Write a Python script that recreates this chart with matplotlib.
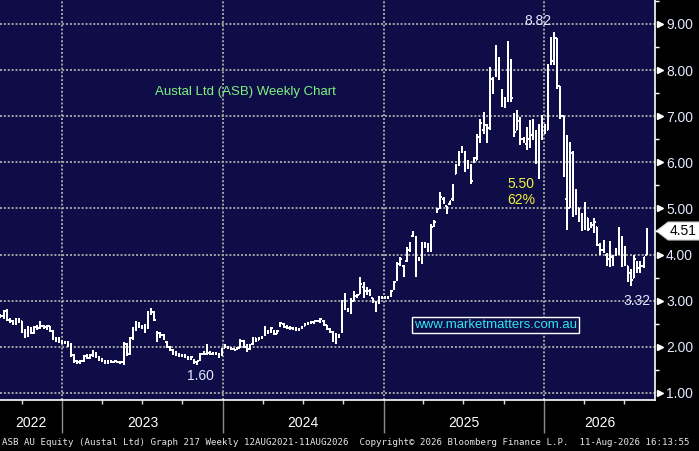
import numpy as np
import pandas as pd
import matplotlib
matplotlib.use('Agg')
from matplotlib import pyplot as plt
import matplotlib.dates as mdates
from matplotlib.patches import Polygon
from matplotlib.transforms import blended_transform_factory

# weekly OHLC for ASB
last_bar = '2026-08-22'

opens = [2.68, 2.66, 2.78, 2.58, 2.55, 2.50, 2.60, 2.55, 2.35, 2.25,
         2.40, 2.30, 2.43, 2.40, 2.45, 2.42, 2.44, 2.35, 2.18, 2.13,
         2.12, 2.08, 2.10, 2.05, 1.82, 1.70, 1.66, 1.68, 1.80, 1.76,
         1.82, 1.85, 1.78, 1.72, 1.70, 1.64, 1.70, 1.67, 1.68, 1.66,
         1.67, 2.05, 1.85, 2.18, 2.38, 2.50, 2.42, 2.42, 2.40, 2.72,
         2.75, 2.25, 2.28, 2.25, 2.10, 2.00, 1.93, 1.88, 1.83, 1.80,
         1.82, 1.78, 1.76, 1.72, 1.66, 1.72, 1.84, 1.85, 1.87, 1.85,
         1.86, 1.85, 1.84, 1.98, 2.00, 1.97, 1.95, 1.95, 1.98, 2.12,
         2.00, 1.95, 2.05, 2.18, 2.15, 2.20, 2.25, 2.33, 2.32, 2.35,
         2.28, 2.45, 2.50, 2.42, 2.41, 2.40, 2.38, 2.38, 2.40, 2.45,
         2.50, 2.52, 2.54, 2.55, 2.55, 2.55, 2.47, 2.38, 2.32, 2.27,
         2.22, 2.34, 2.95, 2.80, 2.75, 3.00, 3.10, 3.15, 3.30, 3.20,
         3.20, 3.05, 2.98, 2.95, 3.05, 3.07, 3.06, 3.10, 3.25, 3.45,
         3.80, 3.75, 3.85, 4.10, 4.40, 4.38, 3.90, 3.90, 4.20, 4.20,
         4.10, 4.65, 4.95, 5.00, 5.20, 5.05, 5.10, 5.20, 5.75, 5.95,
         6.25, 6.20, 5.90, 5.90, 6.00, 6.05, 6.45, 6.70, 6.80, 6.75,
         7.80, 7.90, 8.20, 7.50, 7.30, 7.35, 8.20, 7.05, 6.70, 6.90,
         6.50, 6.40, 6.50, 6.60, 6.60, 6.10, 6.60, 6.80, 6.70, 8.15,
         8.20, 8.70, 7.65, 7.00, 5.20, 5.00, 6.20, 5.20, 5.00, 4.85,
         4.60, 4.80, 4.60, 4.65, 4.60, 4.20, 4.10, 4.00, 3.90, 3.95,
         4.00, 4.05, 4.20, 4.10, 3.75, 3.55, 3.50, 3.80, 3.70, 3.75,
         4.00]

highs = [2.72, 2.80, 2.82, 2.62, 2.58, 2.62, 2.63, 2.56, 2.38, 2.45,
         2.42, 2.45, 2.47, 2.55, 2.48, 2.47, 2.46, 2.37, 2.22, 2.22,
         2.15, 2.13, 2.12, 2.08, 1.85, 1.72, 1.72, 1.82, 1.84, 1.85,
         1.92, 1.88, 1.80, 1.75, 1.72, 1.72, 1.72, 1.70, 1.70, 1.69,
         2.10, 2.08, 2.22, 2.42, 2.55, 2.53, 2.48, 2.50, 2.78, 2.84,
         2.77, 2.35, 2.32, 2.28, 2.12, 2.02, 1.95, 1.90, 1.86, 1.84,
         1.85, 1.80, 1.80, 1.74, 1.70, 1.86, 1.90, 2.06, 1.90, 1.89,
         1.88, 1.87, 1.98, 2.07, 2.02, 1.99, 1.97, 2.00, 2.16, 2.14,
         2.07, 2.05, 2.22, 2.20, 2.22, 2.24, 2.45, 2.36, 2.43, 2.36,
         2.37, 2.54, 2.52, 2.47, 2.44, 2.43, 2.42, 2.40, 2.44, 2.52,
         2.53, 2.56, 2.56, 2.58, 2.62, 2.58, 2.48, 2.40, 2.35, 2.30,
         2.28, 3.01, 3.16, 2.84, 3.05, 3.20, 3.15, 3.52, 3.40, 3.30,
         3.25, 3.05, 3.00, 3.10, 3.10, 3.10, 3.10, 3.22, 3.42, 3.84,
         3.95, 3.77, 4.17, 4.27, 4.50, 4.40, 3.95, 4.27, 4.27, 4.24,
         4.67, 4.74, 5.00, 5.35, 5.24, 5.06, 5.17, 5.53, 5.96, 6.25,
         6.35, 6.25, 6.05, 5.97, 6.12, 6.62, 6.95, 7.09, 6.84, 8.07,
         7.86, 8.54, 8.29, 7.60, 7.42, 8.62, 8.25, 7.06, 7.13, 6.99,
         6.55, 6.77, 6.91, 6.95, 6.70, 6.84, 7.02, 6.84, 8.14, 8.72,
         8.82, 8.70, 7.65, 7.00, 6.60, 6.45, 6.25, 5.43, 5.00, 4.90,
         5.14, 4.80, 4.70, 4.80, 4.60, 4.25, 4.32, 4.03, 4.30, 4.00,
         4.14, 4.60, 4.40, 4.18, 3.75, 3.68, 4.00, 3.86, 3.85, 3.95,
         4.57]

lows = [2.62, 2.60, 2.55, 2.52, 2.48, 2.48, 2.52, 2.30, 2.20, 2.22,
        2.28, 2.28, 2.37, 2.38, 2.38, 2.37, 2.32, 2.15, 2.10, 2.08,
        2.05, 2.05, 2.00, 1.78, 1.65, 1.63, 1.62, 1.66, 1.74, 1.73,
        1.78, 1.76, 1.70, 1.66, 1.62, 1.63, 1.65, 1.64, 1.64, 1.63,
        1.61, 1.80, 1.83, 2.15, 2.35, 2.40, 2.38, 2.30, 2.38, 2.68,
        2.55, 2.10, 2.20, 2.15, 1.98, 1.90, 1.82, 1.80, 1.78, 1.77,
        1.75, 1.72, 1.72, 1.62, 1.60, 1.70, 1.82, 1.83, 1.83, 1.82,
        1.82, 1.75, 1.80, 1.97, 1.95, 1.92, 1.92, 1.93, 1.97, 1.98,
        1.88, 1.93, 2.03, 2.10, 2.14, 2.17, 2.24, 2.28, 2.30, 2.25,
        2.27, 2.42, 2.40, 2.38, 2.36, 2.36, 2.34, 2.34, 2.38, 2.44,
        2.47, 2.50, 2.50, 2.53, 2.52, 2.45, 2.36, 2.30, 2.10, 2.05,
        2.18, 2.30, 2.80, 2.75, 2.70, 3.00, 3.05, 3.15, 3.05, 3.12,
        3.10, 2.95, 2.76, 2.92, 3.03, 3.03, 3.03, 3.08, 3.22, 3.42,
        3.75, 3.52, 3.84, 4.06, 4.38, 3.52, 3.85, 3.80, 4.15, 4.06,
        4.06, 4.60, 4.90, 4.99, 5.10, 4.88, 5.08, 5.17, 5.75, 5.93,
        6.20, 5.78, 5.85, 5.54, 5.98, 6.04, 6.41, 6.62, 6.41, 6.70,
        7.49, 7.86, 7.78, 7.20, 7.17, 7.30, 7.30, 6.55, 6.70, 6.37,
        6.41, 6.26, 6.30, 6.48, 5.97, 5.64, 6.48, 6.62, 6.70, 8.10,
        8.10, 7.60, 6.95, 5.68, 4.53, 5.00, 4.82, 4.86, 4.70, 4.50,
        4.54, 4.50, 4.57, 4.46, 4.18, 4.00, 4.04, 3.75, 3.72, 3.75,
        3.97, 4.00, 3.72, 3.75, 3.40, 3.32, 3.50, 3.60, 3.60, 3.70,
        4.00]

closes = [2.66, 2.78, 2.58, 2.55, 2.50, 2.60, 2.55, 2.35, 2.25, 2.40,
          2.30, 2.43, 2.40, 2.45, 2.42, 2.44, 2.35, 2.18, 2.13, 2.12,
          2.08, 2.10, 2.05, 1.82, 1.70, 1.66, 1.68, 1.80, 1.76, 1.82,
          1.85, 1.78, 1.72, 1.70, 1.64, 1.70, 1.67, 1.68, 1.66, 1.67,
          2.05, 1.85, 2.18, 2.38, 2.50, 2.42, 2.42, 2.35, 2.72, 2.75,
          2.58, 2.30, 2.25, 2.20, 2.05, 1.95, 1.88, 1.83, 1.80, 1.82,
          1.78, 1.75, 1.77, 1.66, 1.68, 1.84, 1.86, 1.87, 1.85, 1.86,
          1.85, 1.84, 1.95, 2.04, 1.98, 1.95, 1.94, 1.98, 2.12, 2.10,
          1.95, 2.03, 2.20, 2.12, 2.20, 2.22, 2.36, 2.30, 2.41, 2.27,
          2.35, 2.52, 2.43, 2.41, 2.42, 2.38, 2.41, 2.38, 2.42, 2.50,
          2.52, 2.54, 2.55, 2.56, 2.60, 2.48, 2.38, 2.34, 2.30, 2.25,
          2.25, 2.95, 2.85, 2.80, 3.00, 3.10, 3.12, 3.35, 3.20, 3.20,
          3.15, 2.98, 2.80, 3.05, 3.08, 3.07, 3.08, 3.20, 3.40, 3.80,
          3.90, 3.60, 4.10, 4.20, 4.45, 3.90, 3.92, 4.20, 4.22, 4.10,
          4.60, 4.70, 4.98, 5.25, 5.15, 5.00, 5.15, 5.50, 5.95, 6.20,
          6.30, 5.85, 6.00, 5.60, 6.10, 6.55, 6.85, 6.90, 6.50, 7.80,
          7.70, 8.30, 7.90, 7.30, 7.30, 8.25, 7.40, 6.65, 6.90, 6.50,
          6.45, 6.55, 6.60, 6.55, 6.10, 6.60, 6.80, 6.70, 8.05, 8.20,
          8.70, 7.65, 7.00, 5.75, 4.86, 6.25, 5.20, 5.10, 4.85, 4.55,
          4.80, 4.55, 4.65, 4.70, 4.20, 4.10, 4.15, 3.85, 4.00, 3.90,
          4.05, 4.20, 4.10, 3.85, 3.60, 3.45, 3.90, 3.70, 3.75, 3.95,
          4.51]

price_ticks = [1, 2, 3, 4, 5, 6, 7, 8, 9]
year_starts = ['2023-01-01', '2024-01-01', '2025-01-01', '2026-01-01']
year_labels = ['2022', '2023', '2024', '2025', '2026']
view = ('2022-08-12', '2026-09-10')

BG = '#0f0d48'
GRID = '#a4a4a4'
LBL = '#e2e8ff'

dates = pd.date_range(end=last_bar, periods=len(closes), freq='7D')
x = mdates.date2num(dates)
half = 3.0  # days, length of open/close ticks

fig = plt.figure(figsize=(6.99, 4.51), dpi=100, facecolor='black')
ax = fig.add_axes([0.0, 51 / 451, 655 / 699, 400 / 451], facecolor=BG)

bar_kw = dict(color='white', lw=1.2, antialiased=False)
ax.vlines(x, lows, highs, **bar_kw)
ax.hlines(opens, x - half, x, **bar_kw)
ax.hlines(closes, x, x + half, **bar_kw)

x0, x1 = mdates.date2num(pd.to_datetime(list(view)))
ax.set_xlim(x0, x1)
ax.set_ylim(0.845, 9.52)

# x axis: year boundaries as long grey ticks, quarters as short ticks
yr = mdates.date2num(pd.to_datetime(year_starts))
ax.set_xticks(yr)
ax.set_xticklabels([])
ax.xaxis.set_minor_locator(mdates.MonthLocator(bymonth=[1, 4, 7, 10]))
ax.tick_params(axis='x', which='major', length=24, width=1, color='#8c8c8c')
ax.tick_params(axis='x', which='minor', length=3, width=1, color='#dcdcdc')
edges = np.concatenate([[x0], yr, [x1]])
for lab, a, b in zip(year_labels, edges[:-1], edges[1:]):
    ax.text((a + b) / 2, -0.058, lab, transform=ax.get_xaxis_transform(),
            ha='center', va='center', color='white', fontsize=10,
            family='Liberation Sans')

# y axis on the right
ax.yaxis.tick_right()
ax.set_yticks(price_ticks)
ax.set_yticklabels(['%.2f' % p for p in price_ticks])
ax.set_yticks(np.array(price_ticks) + 0.5, minor=True)
ax.tick_params(axis='y', which='major', length=0, pad=8, labelsize=10,
               labelcolor=LBL)
ax.tick_params(axis='y', which='minor', length=3, width=1, color='white')
for t in ax.get_yticklabels():
    t.set_family('Liberation Sans')
trans = blended_transform_factory(ax.transAxes, ax.transData)
ax.plot([1.007] * len(price_ticks), price_ticks, ls='none', marker='>',
        ms=4.5, color='white', transform=trans, clip_on=False)

ax.grid(True, which='major', color=GRID, lw=1.4, ls=(0, (1, 1)))
for s in ['top', 'left']:
    ax.spines[s].set_visible(False)
for s in ['right', 'bottom']:
    ax.spines[s].set_color('white')
    ax.spines[s].set_linewidth(1.2)

# last price flag
last = closes[-1]
hb = 0.195
ax.add_patch(Polygon([(1.002, last), (1.02, last + hb), (1.068, last + hb),
                      (1.068, last - hb), (1.02, last - hb)], closed=True,
                     transform=trans, clip_on=False, facecolor='white',
                     edgecolor='#cccccc', lw=0.8))
ax.text(1.043, last, '%.2f' % last, transform=trans, ha='center', va='center',
        fontsize=10, color='black', family='Liberation Sans')

# annotations
ipk = int(np.argmax(highs))
ilo = int(np.argmin(lows))
ilo2 = ipk + int(np.argmin(lows[ipk:]))
txt = dict(color=LBL, fontsize=10, family='Liberation Sans')
ax.annotate('%.2f' % highs[ipk], (x[ipk], highs[ipk]), xytext=(-2, 3),
            textcoords='offset points', ha='right', va='bottom', **txt)
ax.annotate('%.2f' % lows[ilo], (x[ilo], lows[ilo]), xytext=(2, -3),
            textcoords='offset points', ha='center', va='top', **txt)
ax.annotate('%.2f' % lows[ilo2], (x[ilo2], lows[ilo2]), xytext=(4, -6),
            textcoords='offset points', ha='center', va='top', **txt)

drop = highs[ipk] - lows[ilo2]
ax.text(0.796, 0.52, '%.2f\n%d%%' % (drop, round(100 * drop / highs[ipk])),
        transform=ax.transAxes, ha='center', va='center', color='#f2f23c',
        fontsize=10, family='Liberation Sans', linespacing=1.2)

ax.text(0.374, 0.77, 'Austal Ltd (ASB) Weekly Chart', transform=ax.transAxes,
        ha='center', va='center', color='#7ef27e', fontsize=9.5,
        family='Liberation Sans')
ax.text(0.756, 0.1875, 'www.marketmatters.com.au', transform=ax.transAxes,
        ha='center', va='center', color='#2ee6f0', fontsize=9.5,
        family='Liberation Sans',
        bbox=dict(boxstyle='square,pad=0.15', facecolor=BG, edgecolor='white',
                  lw=1))

fig.text(0.003, 0.018,
         'ASB AU Equity (Austal Ltd) Graph 217 Weekly 12AUG2021-11AUG2026  '
         'Copyright\u00a9 2026 Bloomberg Finance L.P.  11-Aug-2026 16:13:55',
         ha='left', va='center', color='#e6e6e6', fontsize=6.6,
         family='DejaVu Sans Mono')

fig.savefig('out.png', dpi=100, facecolor='black')
